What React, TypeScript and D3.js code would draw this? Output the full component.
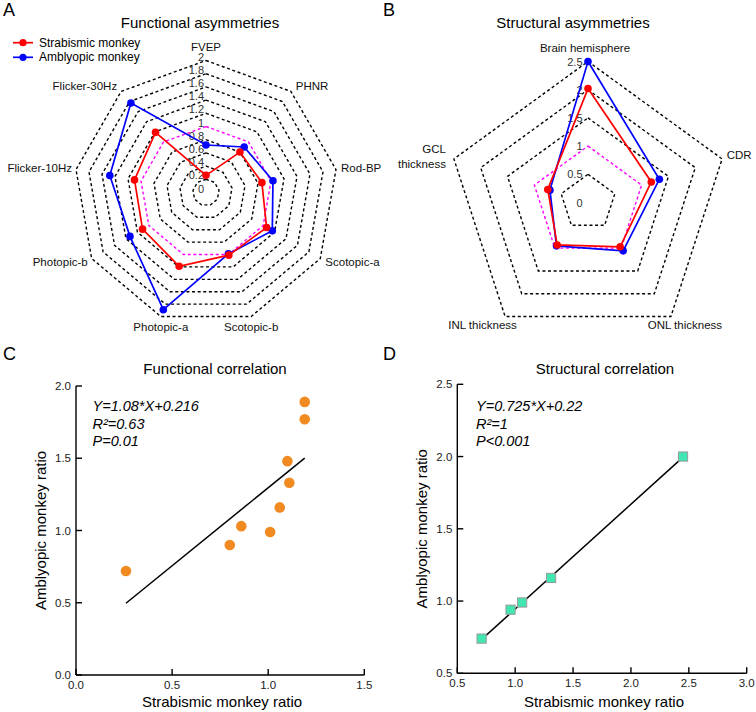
import React from 'react';
import * as d3 from 'd3';

// ---------- data ----------
const funcAxes = ['FVEP', 'PHNR', 'Rod-BP', 'Scotopic-a', 'Scotopic-b', 'Photopic-a', 'Photopic-b', 'Flicker-10Hz', 'Flicker-30Hz'];
const funcStrabismic = [0.26, 0.80, 0.86, 1.06, 1.01, 1.19, 1.11, 1.10, 1.19];
const funcAmblyopic = [0.72, 0.90, 1.03, 1.16, 0.99, 1.89, 1.33, 1.48, 1.77];
const funcTicks = [0, 0.2, 0.4, 0.6, 0.8, 1, 1.2, 1.4, 1.6, 1.8, 2];

const structAxes = ['Brain hemisphere', 'CDR', 'ONL thickness', 'INL thickness', 'GCL thickness'];
const structStrabismic = [2.02, 1.18, 0.97, 0.93, 0.75];
const structAmblyopic = [2.5, 1.33, 1.06, 0.95, 0.71];
const structTicks = [0, 0.5, 1, 1.5, 2, 2.5];

const structScatterX = [0.71, 0.96, 1.06, 1.31, 2.45];
const structScatterY = [0.74, 0.94, 0.99, 1.16, 2.0];

const funcFit = { slope: 1.08, intercept: 0.216 };
const structFit = { slope: 0.725, intercept: 0.22 };
const funcEq = ['Y=1.08*X+0.216', 'R²=0.63', 'P=0.01'];
const structEq = ['Y=0.725*X+0.22', 'R²=1', 'P<0.001'];

const cXTicks = [0, 0.5, 1.0, 1.5];
const cYTicks = [0, 0.5, 1.0, 1.5, 2.0];
const dXTicks = [0.5, 1.0, 1.5, 2.0, 2.5, 3.0];
const dYTicks = [0.5, 1.0, 1.5, 2.0, 2.5];

const seriesNames = ['Strabismic monkey', 'Amblyopic monkey'];

// ---------- style ----------
const FONT = '"Liberation Sans", Arial, Helvetica, sans-serif';
const RED = '#ff0000';
const BLUE = '#0000ff';
const MAGENTA = '#ff00ff';
const ORANGE = '#f28a22';
const MINT = '#42e6b2';

type LabelSpec = { dx: number; dy: number; anchor: string; lines?: string[] };

function Radar(props: {
  cx: number; cy: number; R: number; vMax: number;
  axes: string[]; ticks: number[]; refValue: number;
  series: { values: number[]; color: string }[];
  tickDx: number; tickDy: number;
  labelSpec?: LabelSpec[];
}) {
  const { cx, cy, R, vMax, axes, ticks, refValue, series, tickDx, tickDy, labelSpec } = props;
  const n = axes.length;
  const r = d3.scaleLinear().domain([0, vMax]).range([0, R]);
  const ang = (i: number) => (i * 2 * Math.PI) / n;
  const pt = (i: number, v: number): [number, number] => [cx + r(v) * Math.sin(ang(i)), cy - r(v) * Math.cos(ang(i))];
  const closed = d3.line().curve(d3.curveLinearClosed);
  const rings = ticks.filter((t) => t > 0);
  return (
    <g>
      {rings.filter((t) => Math.abs(t - refValue) > 1e-9).map((t) => (
        <path key={'ring' + t} d={closed(axes.map((_, i) => pt(i, t))) as string} fill="none" stroke="#000" strokeWidth={1.4} strokeDasharray="3,2.6" />
      ))}
      <path d={closed(axes.map((_, i) => pt(i, refValue))) as string} fill="none" stroke={MAGENTA} strokeWidth={1.4} strokeDasharray="3,2.6" />
      {ticks.map((t) => (
        <text key={'tk' + t} x={cx + tickDx} y={cy - r(t) + tickDy} textAnchor="end" dominantBaseline="central" fontSize={11} fill="#333" fontFamily={FONT}>
          {String(+t.toFixed(1))}
        </text>
      ))}
      {series.map((s, si) => (
        <g key={'s' + si}>
          <path d={closed(s.values.map((v, i) => pt(i, v))) as string} fill="none" stroke={s.color} strokeWidth={1.7} />
          {s.values.map((v, i) => {
            const [x, y] = pt(i, v);
            return <circle key={i} cx={x} cy={y} r={3.8} fill={s.color} />;
          })}
        </g>
      ))}
      {axes.map((a, i) => {
        const [vx, vy] = pt(i, vMax);
        const s = Math.sin(ang(i));
        const c = Math.cos(ang(i));
        let x = vx, y = vy, anchor = 'middle';
        if (labelSpec) {
          const L = labelSpec[i];
          x = vx + L.dx; y = vy + L.dy; anchor = L.anchor;
          if (L.lines) {
            return (
              <text key={'ax' + i} x={x} y={y} textAnchor={anchor} fontSize={11.5} fontFamily={FONT} fill="#111">
                {L.lines.map((ln, k) => (
                  <tspan key={k} x={x} y={y + k * 15} dominantBaseline="central">{ln}</tspan>
                ))}
              </text>
            );
          }
        } else if (Math.abs(s) < 0.4) {
          y = vy + (c > 0 ? -14 : 10.5);
        } else {
          anchor = s > 0 ? 'start' : 'end';
          x = vx + (s > 0 ? 5 : -4);
          y = vy - c * 7.5;
        }
        return (
          <text key={'ax' + i} x={x} y={y} textAnchor={anchor} dominantBaseline="central" fontSize={11.5} fontFamily={FONT} fill="#111">
            {a}
          </text>
        );
      })}
    </g>
  );
}

function Scatter(props: {
  x0: number; x1: number; y0: number; y1: number;
  xDomain: [number, number]; yDomain: [number, number];
  xTicks: number[]; yTicks: number[];
  xs: number[]; ys: number[]; fit: { slope: number; intercept: number };
  eq: string[]; eqX: number; marker: 'circle' | 'square';
  title: string; titleX: number;
}) {
  const { x0, x1, y0, y1, xDomain, yDomain, xTicks, yTicks, xs, ys, fit, eq, eqX, marker, title, titleX } = props;
  const x = d3.scaleLinear().domain(xDomain).range([x0, x1]);
  const y = d3.scaleLinear().domain(yDomain).range([y0, y1]);
  const [fx0, fx1] = d3.extent(xs) as [number, number];
  const fitLine = d3.line<number>().x((v) => x(v)).y((v) => y(fit.slope * v + fit.intercept));
  const fmt = d3.format('.1f');
  return (
    <g fontFamily={FONT}>
      <text x={titleX} y={368} textAnchor="middle" dominantBaseline="central" fontSize={15}>{title}</text>
      <line x1={x0} x2={x1} y1={y0} y2={y0} stroke="#000" strokeWidth={1.4} />
      <line x1={x0} x2={x0} y1={y0} y2={y1} stroke="#000" strokeWidth={1.4} />
      {xTicks.map((t) => (
        <g key={'xt' + t}>
          <line x1={x(t)} x2={x(t)} y1={y0} y2={y0 - 6} stroke="#000" strokeWidth={1.4} />
          <text x={x(t)} y={y0 + 10} textAnchor="middle" dominantBaseline="central" fontSize={11.5} fill="#222">{fmt(t)}</text>
        </g>
      ))}
      {yTicks.map((t) => (
        <g key={'yt' + t}>
          <line x1={x0} x2={x0 + 6} y1={y(t)} y2={y(t)} stroke="#000" strokeWidth={1.4} />
          <text x={x0 - 5} y={y(t)} textAnchor="end" dominantBaseline="central" fontSize={11.5} fill="#222">{fmt(t)}</text>
        </g>
      ))}
      <text x={(x0 + x1) / 2 + 2} y={701} textAnchor="middle" dominantBaseline="central" fontSize={15}>Strabismic monkey ratio</text>
      <text transform={`translate(${x0 - 35.5},${(y0 + y1) / 2}) rotate(-90)`} textAnchor="middle" dominantBaseline="central" fontSize={15}>Amblyopic monkey ratio</text>
      {eq.map((e, k) => (
        <text key={'eq' + k} x={eqX} y={406 + k * 17.5} dominantBaseline="central" fontSize={14.5} fontStyle="italic">{e}</text>
      ))}
      <path d={fitLine([fx0, fx1]) as string} stroke="#000" strokeWidth={1.5} fill="none" />
      {xs.map((v, i) =>
        marker === 'circle' ? (
          <circle key={i} cx={x(v)} cy={y(ys[i])} r={5.3} fill={ORANGE} />
        ) : (
          <rect key={i} x={x(v) - 4.6} y={y(ys[i]) - 4.6} width={9.2} height={9.2} fill={MINT} stroke="#9a9a9a" strokeWidth={1} />
        )
      )}
    </g>
  );
}

const structLabelSpec: LabelSpec[] = [
  { dx: -3, dy: -13.5, anchor: 'middle' },
  { dx: 4.6, dy: -4, anchor: 'start' },
  { dx: 14, dy: 8.5, anchor: 'middle' },
  { dx: -22.6, dy: 8.5, anchor: 'middle' },
  { dx: -8, dy: -10, anchor: 'end', lines: ['GCL', 'thickness'] },
];

export default function App() {
  return (
    <svg width={756} height={712} style={{ position: 'absolute', left: 0, top: 0, background: '#fff' }} fontFamily={FONT}>
      {/* Panel letters */}
      <text x={3} y={10} fontSize={18} dominantBaseline="central">A</text>
      <text x={383} y={10} fontSize={18} dominantBaseline="central">B</text>
      <text x={3} y={354} fontSize={18} dominantBaseline="central">C</text>
      <text x={383} y={354} fontSize={18} dominantBaseline="central">D</text>

      {/* Panel A */}
      <text x={200} y={22} textAnchor="middle" dominantBaseline="central" fontSize={15}>Functional asymmetries</text>
      <Radar cx={206} cy={192.5} R={132} vMax={2} axes={funcAxes} ticks={funcTicks} refValue={1}
        series={[{ values: funcAmblyopic, color: BLUE }, { values: funcStrabismic, color: RED }]}
        tickDx={-2} tickDy={-4} />
      {/* legend */}
      {[RED, BLUE].map((c, i) => (
        <g key={'lg' + i}>
          <line x1={13} x2={33} y1={42.7 + i * 14.6} y2={42.7 + i * 14.6} stroke={c} strokeWidth={1.7} />
          <circle cx={23} cy={42.7 + i * 14.6} r={3.6} fill={c} />
          <text x={39} y={42.7 + i * 14.6} dominantBaseline="central" fontSize={12}>{seriesNames[i]}</text>
        </g>
      ))}

      {/* Panel B */}
      <text x={573} y={22} textAnchor="middle" dominantBaseline="central" fontSize={15}>Structural asymmetries</text>
      <Radar cx={588} cy={202.5} R={141} vMax={2.5} axes={structAxes} ticks={structTicks} refValue={1}
        series={[{ values: structAmblyopic, color: BLUE }, { values: structStrabismic, color: RED }]}
        tickDx={-5.5} tickDy={0} labelSpec={structLabelSpec} />

      {/* Panel C */}
      <Scatter x0={76} x1={364.3} y0={675} y1={386} xDomain={[0, 1.5]} yDomain={[0, 2]}
        xTicks={cXTicks} yTicks={cYTicks} xs={funcStrabismic} ys={funcAmblyopic} fit={funcFit}
        eq={funcEq} eqX={92.5} marker="circle" title="Functional correlation" titleX={215} />

      {/* Panel D */}
      <Scatter x0={457.3} x1={746.7} y0={673.3} y1={384.3} xDomain={[0.5, 3]} yDomain={[0.5, 2.5]}
        xTicks={dXTicks} yTicks={dYTicks} xs={structScatterX} ys={structScatterY} fit={structFit}
        eq={structEq} eqX={476} marker="square" title="Structural correlation" titleX={605} />
    </svg>
  );
}
